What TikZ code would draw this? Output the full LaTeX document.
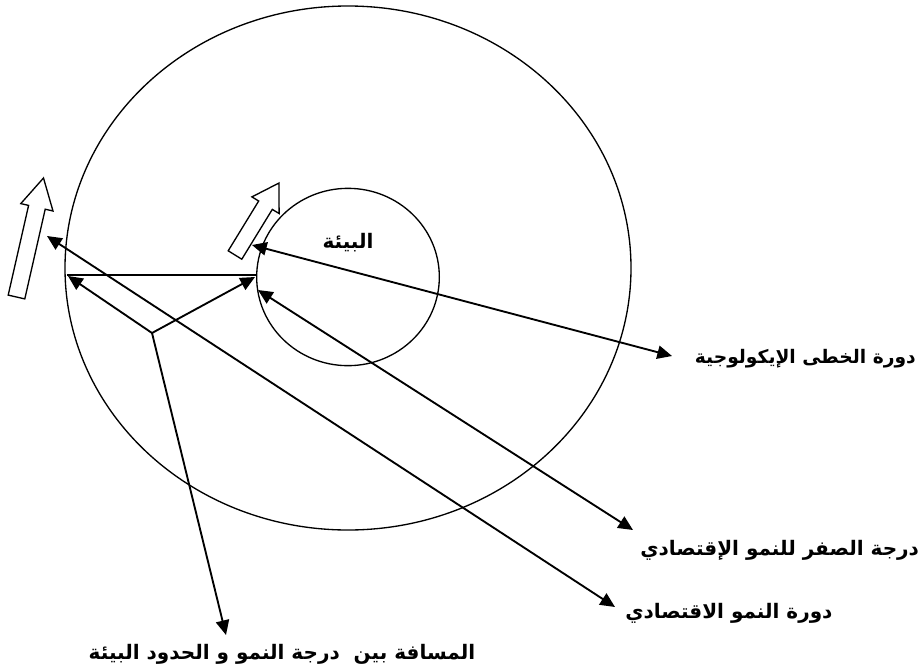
\documentclass[tikz,border=0pt]{standalone}
\usepackage{fontspec}
\usetikzlibrary{arrows.meta,shapes.geometric}
\TeXXeTstate=1
\newfontfamily\arabicfont[Script=Arabic]{DejaVu Sans}
\begin{document}
\begin{tikzpicture}[x=0.75pt,y=-0.75pt,
  ring/.style={draw=black,line width=1pt,ellipse,inner sep=0pt},
  conn/.style={draw=black,line width=1.4pt},
  tip/.style={-{Triangle[length=11pt,width=10pt]}},
  tips/.style={{Triangle[length=11pt,width=10pt]}-{Triangle[length=11pt,width=10pt]}},
  blockarr/.style={draw=black,line width=1pt,fill=white,line join=miter},
  lab/.style={font=\arabicfont\bfseries\fontsize{15}{17}\selectfont,inner sep=0pt}]
\useasboundingbox (0,0) rectangle (922,668);
% circles
\node[ring,minimum width=424.5pt,minimum height=393pt] (big) at (348,268) {};
\node[ring,minimum width=137pt,minimum height=133pt] (small) at (348,277) {};
\node[lab] (env) at (348,243) {\beginR البيئة\endR};
% labels
\node[lab,font=\arabicfont\bfseries\fontsize{14}{16}\selectfont,anchor=east] (l1) at (916,359) {\beginR دورة الخطى الإيكولوجية\endR};
\node[lab,anchor=west] (l2) at (640,550) {\beginR درجة الصفر للنمو الإقتصادي\endR};
\node[lab,anchor=west] (l3) at (625,613) {\beginR دورة النمو الاقتصادي\endR};
\node[lab] (l4) at (282,654) {\beginR المسافة بين\ \ درجة النمو و الحدود البيئة\endR};
% end points
\coordinate (e1a) at (252,245); \coordinate (e1b) at (672,356);
\coordinate (e2a) at (258,290); \coordinate (e2b) at (633,530);
\coordinate (e3a) at (47,236);  \coordinate (e3b) at (615,607);
\coordinate (h1) at (67,275);   \coordinate (h2) at (256,275);
\coordinate (v) at (152,333);
\coordinate (v1) at (68,276);   \coordinate (v2) at (255,277);
\coordinate (v3) at (226,635);
% connectors
\draw[conn,tips] (e1a) -- (e1b);
\draw[conn,tips] (e2a) -- (e2b);
\draw[conn,tips] (e3a) -- (e3b);
\draw[conn] (h1) -- (h2);
\draw[conn,tip] (v) -- (v1);
\draw[conn,tip] (v) -- (v2);
\draw[conn,tip] (v) -- (v3);
% hollow block arrows
\draw[blockarr] (8.2,295.1) -- (28.6,205.4) -- (20.8,203.6) -- (43.5,178) -- (53.0,211.0) -- (45.2,209.2) -- (24.8,298.9) -- cycle;
\draw[blockarr] (228.2,250.8) -- (258.7,201.0) -- (251.9,196.9) -- (279,183) -- (279.1,213.5) -- (272.3,209.4) -- (241.8,259.2) -- cycle;
\end{tikzpicture}
\end{document}
